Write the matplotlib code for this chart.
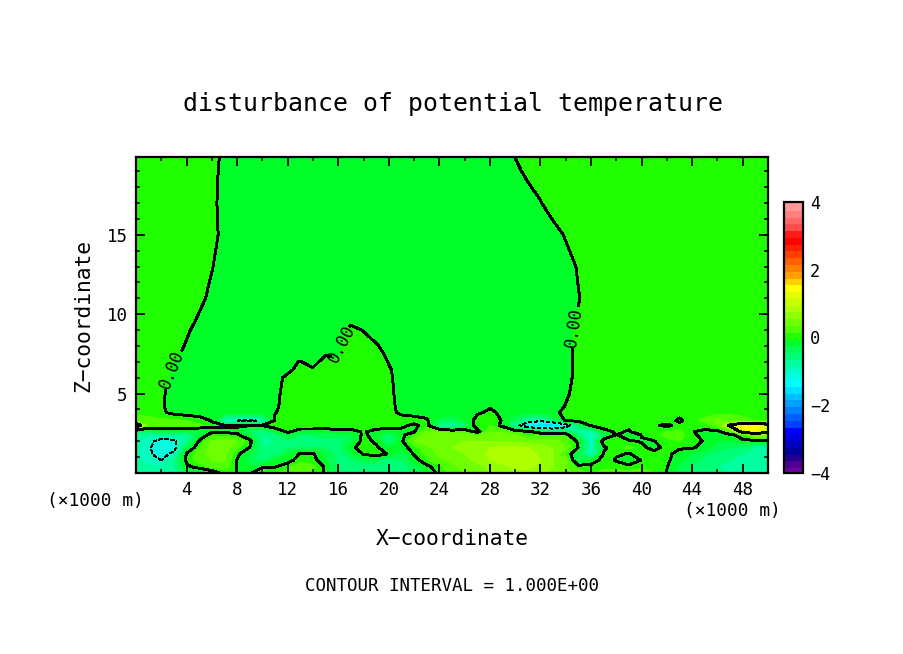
import matplotlib
matplotlib.use("Agg")
import matplotlib.pyplot as plt
import numpy as np
from matplotlib.colors import ListedColormap, BoundaryNorm

plt.rcParams['font.family'] = 'DejaVu Sans Mono'

x_km = list(range(51))
z_km = [0, 0.4, 0.8, 1.2, 1.6, 2.0, 2.4, 2.6, 3.0, 3.3, 3.8, 4.2, 5, 6, 6.5, 7, 7.5, 8, 9, 9.6, 11, 13, 15, 17, 19, 20]

# potential temperature disturbance in hundredths of a kelvin, one row per height
theta_rows = [
 [-70,-72,-72,-65,-45,-30,-15,10,-1,-3, 20,20,25,30,15,-2,-40,-40,-40,-45, -50,-45,-40,-15,5,30,40,50,60,70, 75,75,65,55,45,30,20,25,30,30, 30,20,-1,-25,-40,-50,-55,-62,-70,-72, -72],
 [-70,-75,-80,-65,-5,10,25,30,-1,-20, -3,-2,15,35,25,-5,-45,-50,-50,-50, -55,-50,-30,-6,14,35,45,55,65,75, 85,85,75,60,40,10,8,15,10,8, 15,20,1,-25,-40,-50,-60,-65,-75,-78, -78],
 [-72,-90,-100,-60,5,30,40,45,-1,-30, -50,-15,-10,12,10,-20,-50,-45,-30,-35, -55,-40,-10,15,35,45,55,65,80,90, 95,90,80,60,45,-35,-15,10,-2,-20, 2,15,5,-15,-30,-45,-55,-60,-70,-75, -75],
 [-75,-95,-115,-90,3,35,45,45,5,-20, -50,-50,-20,2,2,-20,-50,-25,2,15, -3,-35,3,25,45,55,60,70,85,95, 95,90,75,60,20,-30,-90,2,2,-1, 5,15,4,-6,-20,-35,-45,-55,-60,-70, -70],
 [-75,-95,-120,-115,-30,20,50,50,25,-1, -60,-55,-45,-40,-40,-40,-45,-10,18,5, -20,-10,10,35,50,60,65,70,80,85, 85,80,70,60,40,-1,-90,-5,15,25, 10,-15,15,2,3,-10,-30,-40,-50,-60, -60],
 [-75,-90,-115,-110,-60,3,45,50,40,10, -60,-60,-50,-50,-50,-50,-50,-30,10,-5, -50,-5,40,55,60,60,60,60,60,60, 55,50,45,45,35,-5,-90,20,10,5, -3,-1,15,20,12,-3,-20,-20,-5,-10, -10],
 [-70,-75,-70,-70,-65,-20,12,10,5,-30, -60,-50,-15,-40,-40,-30,-35,-25,6,-12, -50,-8,20,50,50,50,50,35,50,50, 40,15,25,25,15,-55,-90,-40,2,-25, 2,15,25,30,5,-8,-15,-6,12,70, 60],
 [-40,-40,-30,-25,-25,-35,-5,-5,-5,-45, -70,-20,5,-15,-15,-15,-8,-12,3,-10, -15,-8,-2,40,40,30,25,-10,35,35, 20,8,-20,-25,-30,-70,-80,-8,3,-2, 10,20,20,25,1,-5,-8,30,120,140, 110],
 [145,30,30,30,30,25,3,2,2,2, 2,15,20,20,20,15,20,20,20,15, 15,6,-5,10,-70,-90,-50,20,20,-8, -80,-140,-170,-175,-130,-40,5,10,4,5, 8,3,-5,8,15,10,40,110,150,145, 130],
 [40,30,25,25,20,10,-1,-90,-100,-110, -90,5,15,15,15,15,15,15,15,15, 15,10,10,3,-25,-40,-20,10,15,-2, -40,-80,-90,-50,5,5,8,10,10,10, 10,10,12,-5,15,25,45,35,30,20, 20],
 [12,10,4,-6,-10,-10,-10,-10,-12,-10, -8,-1,9,10,10,10,10,10,10,10, 6,-4,-8,-8,-10,-10,-10,-3,4,-4, -10,-10,-10,-5,5,10,10,10,10,10, 10,10,10,10,10,12,15,15,12,10, 10],
 [10,10,2,-6,-10,-10,-10,-10,-10,-10, -10,-3,7,10,10,10,10,10,10,10, 5,-5,-10,-10,-10,-10,-10,-10,-2,-10, -10,-10,-10,-9,1,10,10,10,10,10, 10,10,10,10,10,10,10,10,10,10, 10],
 [10,10,3,-7,-10,-10,-10,-10,-10,-10, -10,-4,6,10,10,10,10,10,10,10, 4,-6,-10,-10,-10,-10,-10,-10,-10,-10, -10,-10,-10,-10,-3,7,10,10,10,10, 10,10,10,10,10,10,10,10,10,10, 10],
 [10,10,6,-4,-10,-10,-10,-10,-10,-10, -10,-6,4,10,10,10,10,10,10,10, 3,-7,-10,-10,-10,-10,-10,-10,-10,-10, -10,-10,-10,-10,-5,5,10,10,10,10, 10,10,10,10,10,10,10,10,10,10, 10],
 [10,10,8,-2,-10,-10,-10,-10,-10,-10, -10,-10,-4,6,3,10,10,10,10,10, 2,-8,-10,-10,-10,-10,-10,-10,-10,-10, -10,-10,-10,-10,-5,5,10,10,10,10, 10,10,10,10,10,10,10,10,10,10, 10],
 [10,10,10,1,-9,-10,-10,-10,-10,-10, -10,-10,-5,1,-8,10,2,10,10,10, -1,-10,-10,-10,-10,-10,-10,-10,-10,-10, -10,-10,-10,-10,-5,5,10,10,10,10, 10,10,10,10,10,10,10,10,10,10, 10],
 [10,10,10,5,-5,-10,-10,-10,-10,-10, -10,-10,-10,-10,-10,-3,-2,8,10,6, -4,-10,-10,-10,-10,-10,-10,-10,-10,-10, -10,-10,-10,-10,-5,5,10,10,10,10, 10,10,10,10,10,10,10,10,10,10, 10],
 [10,10,10,8,-2,-10,-10,-10,-10,-10, -10,-10,-10,-10,-10,-10,-3,7,10,2, -8,-10,-10,-10,-10,-10,-10,-10,-10,-10, -10,-10,-10,-10,-5,5,10,10,10,10, 10,10,10,10,10,10,10,10,10,10, 10],
 [10,10,10,10,3,-7,-10,-10,-10,-10, -10,-10,-10,-10,-10,-10,-4,6,-1,-10, -10,-10,-10,-10,-10,-10,-10,-10,-10,-10, -10,-10,-10,-10,-6,4,10,10,10,10, 10,10,10,10,10,10,10,10,10,10, 10],
 [10,10,10,10,7,-3,-10,-10,-10,-10, -10,-10,-10,-10,-10,-10,-10,-6,-10,-10, -10,-10,-10,-10,-10,-10,-10,-10,-10,-10, -10,-10,-10,-10,-8,2,10,10,10,10, 10,10,10,10,10,10,10,10,10,10, 10],
 [10,10,10,10,10,5,-5,-10,-10,-10, -10,-10,-10,-10,-10,-10,-10,-10,-10,-10, -10,-10,-10,-10,-10,-10,-10,-10,-10,-10, -10,-10,-10,-10,-10,-1,9,10,10,10, 10,10,10,10,10,10,10,10,10,10, 10],
 [10,10,10,10,10,10,1,-9,-10,-10, -10,-10,-10,-10,-10,-10,-10,-10,-10,-10, -10,-10,-10,-10,-10,-10,-10,-10,-10,-10, -10,-10,-10,-10,-8,2,10,10,10,10, 10,10,10,10,10,10,10,10,10,10, 10],
 [10,10,10,10,10,10,5,-5,-10,-10, -10,-10,-10,-10,-10,-10,-10,-10,-10,-10, -10,-10,-10,-10,-10,-10,-10,-10,-10,-10, -10,-10,-10,-8,2,10,10,10,10,10, 10,10,10,10,10,10,10,10,10,10, 10],
 [10,10,10,10,10,10,4,-6,-10,-10, -10,-10,-10,-10,-10,-10,-10,-10,-10,-10, -10,-10,-10,-10,-10,-10,-10,-10,-10,-10, -10,-10,-1,10,10,10,10,10,10,10, 10,10,10,10,10,10,10,10,10,10, 10],
 [10,10,10,10,10,10,5,-5,-10,-10, -10,-10,-10,-10,-10,-10,-10,-10,-10,-10, -10,-10,-10,-10,-10,-10,-10,-10,-10,-10, -5,5,10,10,10,10,10,10,10,10, 10,10,10,10,10,10,10,10,10,10, 10],
 [10,10,10,10,10,10,6,-4,-10,-10, -10,-10,-10,-10,-10,-10,-10,-10,-10,-10, -10,-10,-10,-10,-10,-10,-10,-10,-10,-9, 1,10,10,10,10,10,10,10,10,10, 10,10,10,10,10,10,10,10,10,10, 10],
]

band_colors = [
 '#7000a0','#500090','#200090','#0000a0','#0000c0','#0000e0','#0000ff','#0040ff','#0060ff','#0080ff',
 '#00a0ff','#00c0ff','#00e0ff','#00ffff','#00ffe0','#00ffc0','#00ffa0','#00ff78','#00ff50','#00ff28',
 '#20ff00','#50ff00','#70ff00','#90ff00','#b0ff00','#c8ff00','#e0ff00','#ffff00','#ffd000','#ffa000',
 '#ff8000','#ff6000','#ff4000','#ff2000','#ff0000','#ff1a1a','#ff4d4d','#ff6666','#ff8080','#ff9999',
]
fill_levels = [-4 + 0.2 * i for i in range(41)]
tick_values = [-4, -2, 0, 2, 4]
tick_names = ['\u22124', '\u22122', '0', '2', '4']

W, H = 904, 654
fig = plt.figure(figsize=(W / 100, H / 100), dpi=100, facecolor='white')
ax = fig.add_axes([136 / W, 1 - 473 / H, 632 / W, 316 / H])

theta = np.array(theta_rows) / 100.0
cmap = ListedColormap(band_colors)
norm = BoundaryNorm(fill_levels, cmap.N)
cf = ax.contourf(x_km, z_km, theta, levels=fill_levels, cmap=cmap, norm=norm, antialiased=False)
ax.contour(x_km, z_km, theta, levels=[-1], colors='k', linewidths=0.9, linestyles=[(0, (3, 2))], antialiased=False)
ax.contour(x_km, z_km, theta, levels=[1], colors='k', linewidths=1.4, linestyles='solid', antialiased=False)
c0 = ax.contour(x_km, z_km, theta, levels=[0], colors='k', linewidths=1.4, linestyles='solid', antialiased=False)
ax.clabel(c0, fmt='%.2f', fontsize=12, inline=True, inline_spacing=1,
          manual=[(2.85, 6.5), (16.3, 8.1), (34.5, 9.2)])

ax.set_xlim(0, 50)
ax.set_ylim(0, 19.9)
ax.set_xticks(range(4, 50, 4))
ax.set_xticks(range(2, 50, 2), minor=True)
ax.set_yticks([5, 10, 15])
ax.set_yticks(range(1, 20), minor=True)
ax.tick_params(which='major', direction='in', length=6.5, width=1.3, top=True, right=True, labelsize=12.6, pad=6)
ax.tick_params(which='minor', direction='in', length=3, width=1.1, top=True, right=True)
for s in ax.spines.values():
    s.set_linewidth(1.6)

cax = fig.add_axes([784 / W, 1 - 473 / H, 19 / W, 271 / H])
cb = fig.colorbar(cf, cax=cax, ticks=tick_values, spacing='proportional')
cb.ax.set_yticklabels(tick_names)
cb.ax.minorticks_off()
cb.ax.tick_params(which='both', length=0, labelsize=12.2, pad=5)
cb.outline.set_linewidth(1.6)
cb.solids.set_edgecolor('face')

def put(px, py, s, size, **kw):
    fig.text(px / W, 1 - py / H, s, fontsize=size, ha='center', va='center', **kw)

put(453, 104, 'disturbance of potential temperature', 17.9)
put(452, 539, 'X\u2212coordinate', 15.3)
put(83, 315, 'Z\u2212coordinate', 15.3, rotation=90)
put(452, 586, 'CONTOUR INTERVAL = 1.000E+00', 12.6)
put(95, 501, '(\u00d71000 m)', 12.9)
put(732, 511, '(\u00d71000 m)', 12.9)

fig.savefig('out.png', dpi=100, facecolor='white')
